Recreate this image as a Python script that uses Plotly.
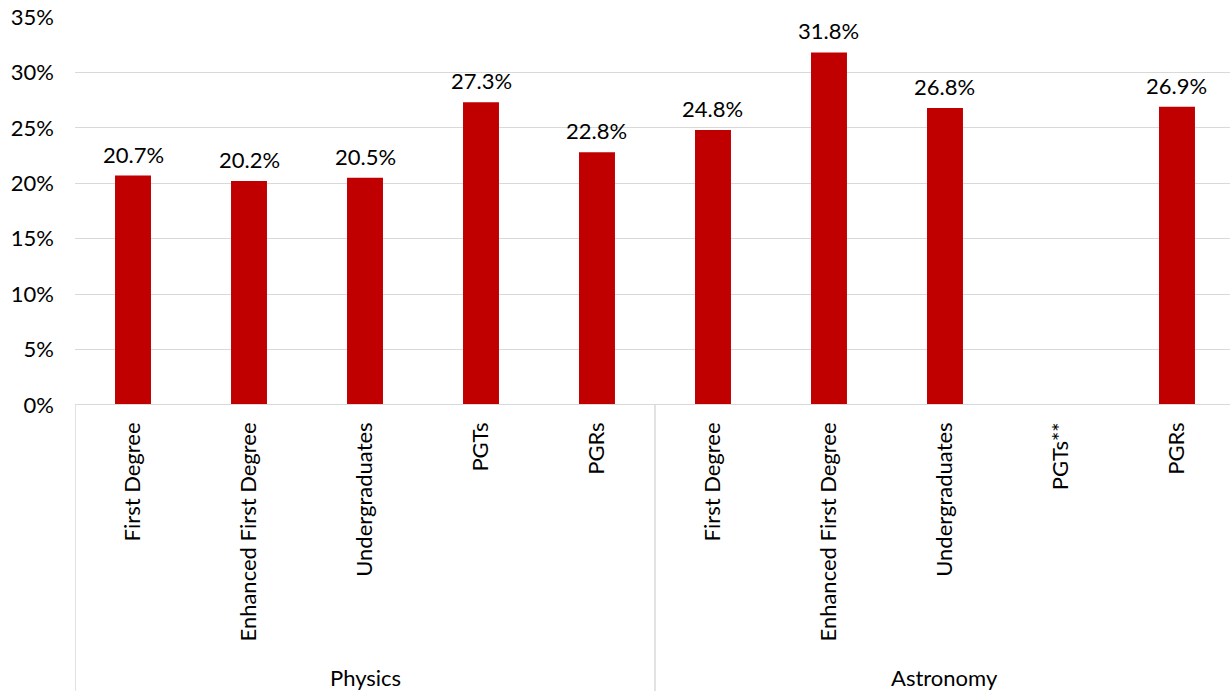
import plotly.graph_objects as go

# Share of each cohort, by subject group
groups = ["Physics", "Astronomy"]
categories = [
    "First Degree", "Enhanced First Degree", "Undergraduates", "PGTs", "PGRs",
    "First Degree", "Enhanced First Degree", "Undergraduates", "PGTs**", "PGRs",
]
group_of = ["Physics"] * 5 + ["Astronomy"] * 5
values = [20.7, 20.2, 20.5, 27.3, 22.8, 24.8, 31.8, 26.8, None, 26.9]
y_ticks = [0, 5, 10, 15, 20, 25, 30, 35]

FONT = "Lato, Carlito, Calibri, sans-serif"
FSIZE = 22
GRID = "#d9d9d9"
BAR = "#c00000"

xpos = list(range(len(categories)))

fig = go.Figure(go.Bar(
    x=xpos, y=values, marker_color=BAR, marker_line_width=0, width=0.31,
))

x_lo, x_hi = -0.5, 9.457

fig.update_layout(
    width=1230, height=691,
    margin=dict(l=75, r=0, t=17, b=286),
    paper_bgcolor="white", plot_bgcolor="white",
    showlegend=False,
    font=dict(family=FONT, size=FSIZE, color="#000000"),
    xaxis=dict(
        range=[x_lo, x_hi], tickmode="array", tickvals=xpos, ticktext=categories,
        tickangle=-90, showgrid=False, zeroline=False, showline=False,
        ticks="", ticklabelstandoff=12,
        tickfont=dict(family=FONT, size=FSIZE, color="#000000"),
    ),
    yaxis=dict(
        range=[0, 35], tickvals=y_ticks, ticktext=[f"{t}%" for t in y_ticks],
        showgrid=True, gridcolor=GRID, gridwidth=1, zeroline=False,
        showline=False, ticks="", ticklabelstandoff=20,
        tickfont=dict(family=FONT, size=FSIZE, color="#000000"),
    ),
)

# value labels above each bar
for xi, v in zip(xpos, values):
    if v is None:
        continue
    fig.add_annotation(x=xi, y=v, xref="x", yref="y", text=f"{v:.1f}%",
                       showarrow=False, yanchor="bottom", yshift=6,
                       font=dict(family=FONT, size=FSIZE, color="#000000"))

bottom = -286 / 388
# horizontal category axis line
fig.add_shape(type="line", xref="paper", yref="y", x0=0, x1=1, y0=0, y1=0,
              line=dict(color=GRID, width=2))
# group separators running down through the label area
for xb in [x_lo, 4.5]:
    fig.add_shape(type="line", xref="x", yref="paper", x0=xb, x1=xb,
                  y0=0, y1=bottom, line=dict(color=GRID, width=1.5))

# group names centred beneath their categories
for g in groups:
    idx = [i for i, gg in enumerate(group_of) if gg == g]
    center = (idx[0] + idx[-1]) / 2
    fig.add_annotation(x=center, xref="x", y=bottom, yref="paper",
                       text=g, showarrow=False, yanchor="bottom", yshift=-2,
                       font=dict(family=FONT, size=FSIZE, color="#000000"))

fig.write_html("out.html")
